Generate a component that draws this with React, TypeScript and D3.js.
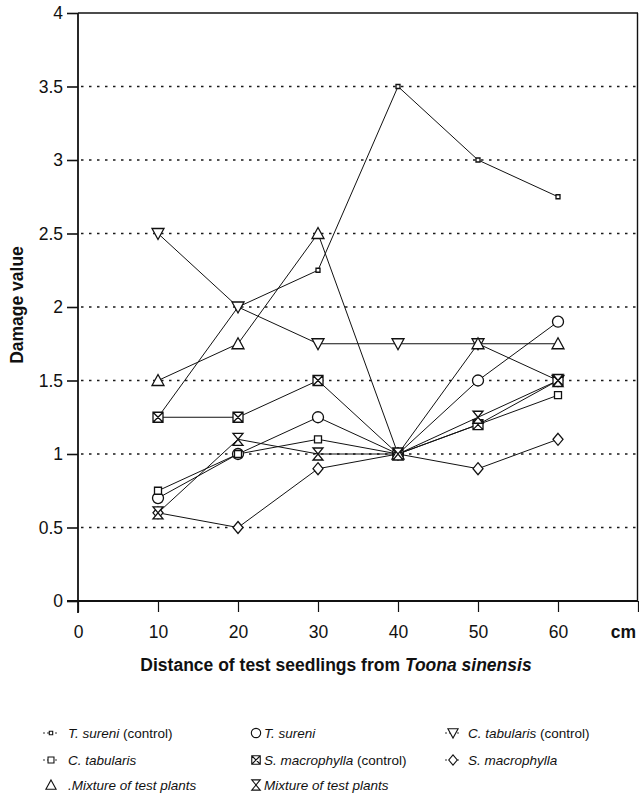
import React, { useEffect, useRef } from 'react';
import * as d3 from 'd3';

// distances (cm) from Toona sinensis
const distances = [10, 20, 30, 40, 50, 60];

// damage values per treatment
const tSureniControl = [1.25, 2.0, 2.25, 3.5, 3.0, 2.75];
const tSureni = [0.7, 1.0, 1.25, 1.0, 1.5, 1.9];
const cTabularisControl = [2.5, 2.0, 1.75, 1.75, 1.75, 1.5];
const cTabularis = [0.75, 1.0, 1.1, 1.0, 1.2, 1.4];
const sMacrophyllaControl = [1.25, 1.25, 1.5, 1.0, 1.2, 1.5];
const sMacrophylla = [0.6, 0.5, 0.9, 1.0, 0.9, 1.1];
const mixtureA = [1.5, 1.75, 2.5, 1.0, 1.75, 1.75];
const mixtureB = [0.6, 1.1, 1.0, 1.0, 1.25, 1.5];

const yTicks = [0, 0.5, 1, 1.5, 2, 2.5, 3, 3.5, 4];
const xTicks = [0, 10, 20, 30, 40, 50, 60];
const gridValues = [0.5, 1, 1.5, 2, 2.5, 3, 3.5];

// marker paths
const symbols: Record<string, string> = {
  tinySquare: 'M-2,-2H2V2H-2Z',
  circle: 'M-5.5,0A5.5,5.5 0 1,0 5.5,0A5.5,5.5 0 1,0 -5.5,0Z',
  downTri: 'M-6,-5H6L0,6Z',
  square: 'M-3.5,-3.5H3.5V3.5H-3.5Z',
  boxX: 'M-5,-5H5V5H-5Z M-5,-5L5,5 M5,-5L-5,5',
  diamond: 'M0,-6L5,0L0,6L-5,0Z',
  upTri: 'M0,-6L6,5H-6Z',
  hourglass: 'M-5,-6H5L-5,6H5Z',
};

const series = [
  { name: 'T. sureni', suffix: ' (control)', values: tSureniControl, sym: 'tinySquare', col: 0, row: 0, dash: true },
  { name: 'T. sureni', suffix: '', values: tSureni, sym: 'circle', col: 1, row: 0, dash: false },
  { name: 'C. tabularis', suffix: ' (control)', values: cTabularisControl, sym: 'downTri', col: 2, row: 0, dash: true },
  { name: 'C. tabularis', suffix: '', values: cTabularis, sym: 'square', col: 0, row: 1, dash: true },
  { name: 'S. macrophylla', suffix: ' (control)', values: sMacrophyllaControl, sym: 'boxX', col: 1, row: 1, dash: false },
  { name: 'S. macrophylla', suffix: '', values: sMacrophylla, sym: 'diamond', col: 2, row: 1, dash: true },
  { name: '.Mixture of test plants', suffix: '', values: mixtureA, sym: 'upTri', col: 0, row: 2, dash: false },
  { name: 'Mixture of test plants', suffix: '', values: mixtureB, sym: 'hourglass', col: 1, row: 2, dash: false },
];

const FONT = '"Liberation Sans", Arial, Helvetica, sans-serif';

const App = () => {
  const ref = useRef<SVGSVGElement | null>(null);

  useEffect(() => {
    if (!ref.current) return;
    const width = 639;
    const height = 798;
    const left = 78;
    const top = 13;
    const bottom = 601;

    const svg = d3.select(ref.current);
    svg.selectAll('*').remove();

    const x = d3.scaleLinear().domain([0, 70]).range([left, 638]);
    const y = d3.scaleLinear().domain([0, 4]).range([bottom, top]);

    // dotted grid
    svg.append('g')
      .selectAll('line')
      .data(gridValues)
      .enter()
      .append('line')
      .attr('x1', left + 3)
      .attr('x2', 638)
      .attr('y1', d => y(d))
      .attr('y2', d => y(d))
      .attr('stroke', '#1a1a1a')
      .attr('stroke-width', 1.7)
      .attr('stroke-dasharray', '2.5,5.5');

    // frame top + right
    svg.append('line').attr('x1', left).attr('x2', 638).attr('y1', y(4)).attr('y2', y(4))
      .attr('stroke', '#111').attr('stroke-width', 1.6);
    svg.append('line').attr('x1', 637.5).attr('x2', 637.5).attr('y1', y(4)).attr('y2', bottom)
      .attr('stroke', '#111').attr('stroke-width', 1.4);

    // y axis
    const yAxis = svg.append('g')
      .attr('transform', `translate(${left},0)`)
      .call(d3.axisLeft(y).tickValues(yTicks).tickSize(11).tickPadding(4).tickFormat(d => String(d)));
    yAxis.select('.domain').attr('stroke', '#111').attr('stroke-width', 1.8).attr('d', `M0,${top}V${bottom + 12}`);
    yAxis.selectAll('.tick line').attr('stroke', '#111').attr('stroke-width', 1.6);
    yAxis.selectAll('text').attr('font-family', FONT).attr('font-size', 17.5).attr('fill', '#111');

    // x axis
    const xAxis = svg.append('g')
      .attr('transform', `translate(0,${bottom})`)
      .call(d3.axisBottom(x).tickValues([...xTicks, 70]).tickSize(11).tickPadding(14)
        .tickFormat(d => (d === 70 ? 'cm' : String(d))));
    xAxis.select('.domain').attr('stroke', '#111').attr('stroke-width', 1.8).attr('d', `M${left - 11},0H638`);
    xAxis.selectAll('.tick line').attr('stroke', '#111').attr('stroke-width', 1.2);
    xAxis.selectAll('text').attr('font-family', FONT).attr('font-size', 17.5).attr('fill', '#111');
    xAxis.selectAll('.tick text').filter(d => d === 70)
      .attr('font-weight', 'bold').attr('dx', -15);

    // axis titles
    const xTitle = svg.append('text')
      .attr('x', 336).attr('y', 671)
      .attr('text-anchor', 'middle')
      .attr('font-family', FONT).attr('font-size', 17.5).attr('font-weight', 'bold').attr('fill', '#111');
    xTitle.append('tspan').text('Distance of test seedlings from ');
    xTitle.append('tspan').attr('font-style', 'italic').text('Toona sinensis');

    svg.append('text')
      .attr('transform', `translate(23,305) rotate(-90)`)
      .attr('text-anchor', 'middle')
      .attr('font-family', FONT).attr('font-size', 17.5).attr('font-weight', 'bold').attr('fill', '#111')
      .text('Damage value');

    // lines
    const line = d3.line<number>()
      .x((_, i) => x(distances[i]))
      .y(d => y(d));

    svg.append('g')
      .selectAll('path')
      .data(series)
      .enter()
      .append('path')
      .attr('d', s => line(s.values))
      .attr('fill', 'none')
      .attr('stroke', '#111')
      .attr('stroke-width', 1);

    // markers
    series.forEach(s => {
      svg.append('g')
        .selectAll('path')
        .data(s.values)
        .enter()
        .append('path')
        .attr('transform', (d, i) => `translate(${x(distances[i])},${y(d)})`)
        .attr('d', symbols[s.sym])
        .attr('fill', 'white')
        .attr('stroke', '#111')
        .attr('stroke-width', 1.3);
    });

    // legend
    const colSym = [51, 256, 453];
    const colText = [68, 264, 468];
    const rowY = [733, 760, 785];
    const legend = svg.append('g');
    series.forEach(s => {
      const cx = colSym[s.col];
      const cy = rowY[s.row];
      if (s.dash) {
        legend.append('line').attr('x1', cx - 8).attr('x2', cx + 8).attr('y1', cy).attr('y2', cy)
          .attr('stroke', '#333').attr('stroke-width', 1).attr('stroke-dasharray', '2,2');
      }
      legend.append('path')
        .attr('transform', `translate(${cx},${cy}) scale(0.85)`)
        .attr('d', symbols[s.sym])
        .attr('fill', 'white').attr('stroke', '#111').attr('stroke-width', 1.3);
      const t = legend.append('text')
        .attr('x', colText[s.col]).attr('y', cy + 5)
        .attr('font-family', FONT).attr('font-size', 13.5).attr('fill', '#111');
      t.append('tspan').attr('font-style', 'italic').text(s.name);
      if (s.suffix) t.append('tspan').text(s.suffix);
    });

    svg.attr('width', width).attr('height', height);
  }, []);

  return (
    <svg
      ref={ref}
      width={639}
      height={798}
      style={{ position: 'absolute', left: 0, top: 0, display: 'block', background: 'white' }}
    />
  );
};

export default App;
